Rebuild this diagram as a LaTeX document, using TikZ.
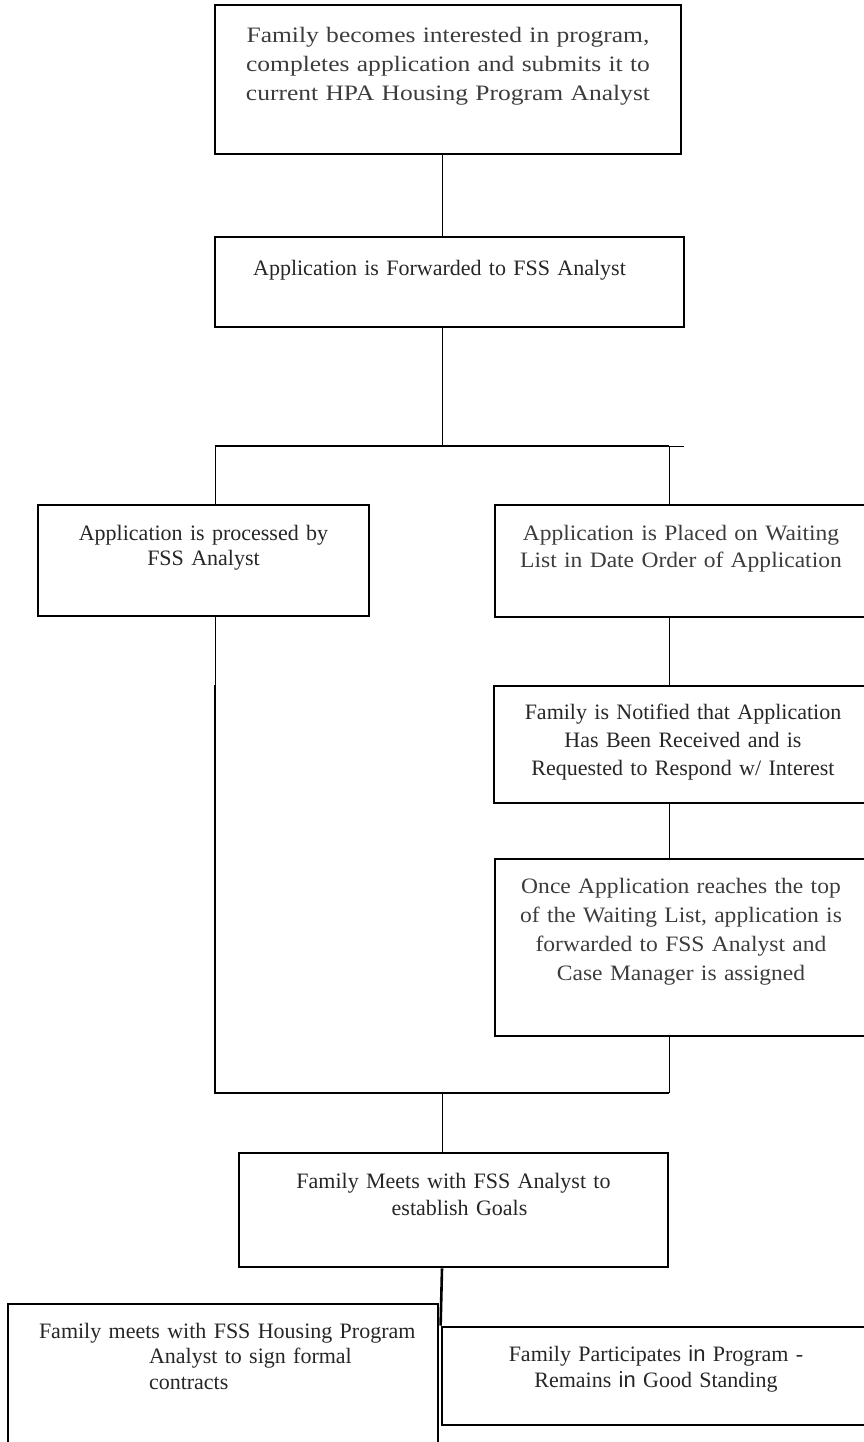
\documentclass[tikz,border=0pt]{standalone}
\usepackage{fontspec}
\setmainfont{Liberation Serif}
\newfontfamily\wideserif[FakeStretch=1.16]{Liberation Serif}
\newfontfamily\midserif[FakeStretch=1.07]{Liberation Serif}
\newfontfamily\plainsans{Liberation Sans}
\usepackage{xcolor}
\definecolor{Ink}{HTML}{262626}
\definecolor{SoftInk}{HTML}{3C3C3C}
\tikzset{
 block/.style={draw=black, line width=2.8pt, inner xsep=6pt, inner ysep=0pt, align=center, anchor=base, text=Ink, font=\fontsize{22}{27}\selectfont},
 wideblock/.style={block, text=SoftInk, font=\wideserif\fontsize{22}{29}\selectfont},
 midblock/.style={block, text=SoftInk, font=\midserif\fontsize{22}{29}\selectfont},
 link/.style={draw=black, line width=0.9pt},
 boldlink/.style={draw=black, line width=2.6pt}
}

\begin{document}
\begin{tikzpicture}[x=1pt,y=-1pt]
\useasboundingbox (0,0) rectangle (864,1442);
% boxes
\node[wideblock,text width=454pt,text height=38pt,text depth=111pt] (apply) at (448,43) {Family becomes interested in program,\\ completes application and submits it to\\ current HPA Housing Program Analyst};
\node[block,text width=457pt,text height=38pt,text depth=52pt] (forward) at (449.5,275) {Application is Forwarded to FSS Analyst\hspace*{20pt}};
\node[block,text width=319pt,text height=35pt,text depth=76pt,font=\fontsize{22}{25}\selectfont] (process) at (203.5,540) {Application is processed by\\ FSS Analyst};
\node[midblock,text width=360pt,text height=35pt,text depth=77pt,font=\midserif\fontsize{22}{27}\selectfont] (waitlist) at (681,540) {Application is Placed on Waiting\\ List in Date Order of Application};
\node[block,text width=366pt,text height=33pt,text depth=84pt,font=\fontsize{22}{28}\selectfont] (notify) at (683,719) {Family is Notified that Application\\ Has Been Received and is\\ Requested to Respond w/ Interest};
\node[midblock,text width=360pt,text height=34pt,text depth=143pt] (reach) at (681,893) {Once Application reaches the top\\ of the Waiting List, application is\\ forwarded to FSS Analyst and\\ Case Manager is assigned};
\node[block,text width=417pt,text height=35pt,text depth=79pt] (goals) at (453.5,1188) {Family Meets with FSS Analyst to\hspace*{20pt}\\ \hspace*{12pt}establish Goals};
\node[block,align=left,text width=418pt,text height=34pt,text depth=122pt,font=\fontsize{22}{25.5}\selectfont] (contract) at (223,1338) {\hspace*{25pt}Family meets with FSS Housing Program\\ \hspace*{135pt}Analyst to sign formal\\ \hspace*{135pt}contracts};
\node[block,text width=416pt,text height=34pt,text depth=64pt,font=\fontsize{22}{26}\selectfont] (standing) at (656,1361) {Family Participates {\plainsans in} Program -\\ Remains {\plainsans in} Good Standing};
% branch points
\coordinate (split) at (442,446);
\coordinate (lbranch) at (215,446);
\coordinate (rbranch) at (669,446);
\coordinate (stub) at (684,446);
\coordinate (merge) at (442,1093);
% connectors
\draw[link] (apply.south -| split) -- (forward.north -| split);
\draw[link] (forward.south -| split) -- (split);
\draw[boldlink] (lbranch) -- (rbranch);
\draw[link] (rbranch) -- (stub);
\draw[link] (lbranch) -- (lbranch |- process.north);
\draw[link] (rbranch) -- (rbranch |- waitlist.north);
\draw[link] (waitlist.south -| rbranch) -- (notify.north -| rbranch);
\draw[link] (notify.south -| rbranch) -- (reach.north -| rbranch);
\draw[link] (process.south -| lbranch) -- (lbranch |- notify.north);
\draw[boldlink] (lbranch |- notify.north) -- (lbranch |- merge) -- (rbranch |- merge);
\draw[link] (reach.south -| rbranch) -- (rbranch |- merge);
\draw[link] (merge) -- (goals.north -| merge);
\draw[boldlink] (goals.south -| merge) -- (standing.north west);
\end{tikzpicture}
\end{document}
